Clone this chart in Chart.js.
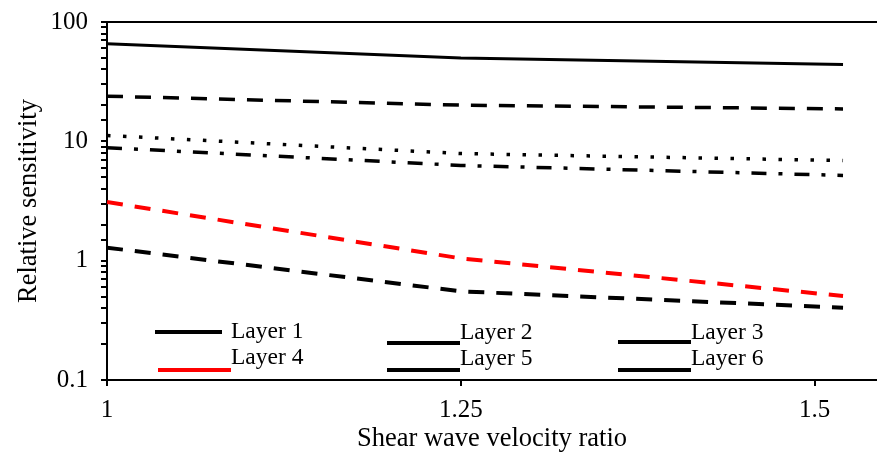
<!DOCTYPE html>
<html>
<head>
<meta charset="utf-8">
<script src="https://cdn.jsdelivr.net/npm/chart.js@4/dist/chart.umd.min.js"></script>
<style>
html, body { margin: 0; padding: 0; background: #fff; }
#wrap { width: 877px; height: 452px; }
</style>
</head>
<body>
<div id="wrap"><canvas id="myChart"></canvas></div>
<script>
// data
var velocityRatio = [1, 1.25, 1.52];
var layer1 = [65.6, 50, 44];
var layer2 = [23.9, 20.1, 18.7];
var layer3 = [11.2, 7.9, 6.9];
var layer4 = [3.1, 1.045, 0.506];
var layer5 = [8.85, 6.28, 5.18];
var layer6 = [1.285, 0.553, 0.404];
var xTicks = [1, 1.25, 1.5];
var yTicks = [0.1, 1, 10, 100];

var FONT = '"Liberation Serif", "Times New Roman", serif';

function pts(arr) {
    return arr.map(function (v, i) { return { x: velocityRatio[i], y: v }; });
}

// legend placed inside the plot, like the original
var legendBox = {
    id: 'legendBox',
    afterDraw: function (chart) {
        var c = chart.ctx;
        var spots = [
            // [line x1, line x2, line y, text x, text y]
            [155, 222, 332, 231, 332],
            [387, 460, 343, 460, 333],
            [618, 691, 342, 691, 333],
            [158, 231, 370, 231, 358],
            [387, 460, 370, 460, 359],
            [618, 691, 370, 691, 359]
        ];
        c.save();
        c.font = '23.5px ' + FONT;
        c.textBaseline = 'middle';
        c.fillStyle = '#000';
        chart.data.datasets.forEach(function (ds, k) {
            var s = spots[k];
            c.beginPath();
            c.setLineDash([]);
            c.lineWidth = 4;
            c.strokeStyle = ds.borderColor;
            c.moveTo(s[0], s[2]);
            c.lineTo(s[1], s[2]);
            c.stroke();
            c.fillText(ds.label, s[3], s[4]);
        });
        // top frame line
        var a = chart.chartArea;
        c.beginPath();
        c.lineWidth = 2;
        c.strokeStyle = '#000';
        c.moveTo(a.left, a.top);
        c.lineTo(chart.width, a.top);
        c.stroke();
        c.restore();
    }
};

var ctx = document.getElementById('myChart').getContext('2d');
var myChart = new Chart(ctx, {
    type: 'line',
    data: {
        datasets: [{
            label: 'Layer 1',
            data: pts(layer1),
            borderColor: '#000',
            borderWidth: 3
        }, {
            label: 'Layer 2',
            data: pts(layer2),
            borderColor: '#000',
            borderWidth: 3.5,
            borderDash: [16, 12]
        }, {
            label: 'Layer 3',
            data: pts(layer3),
            borderColor: '#000',
            borderWidth: 3.5,
            borderDash: [3.5, 12.5]
        }, {
            label: 'Layer 4',
            data: pts(layer4),
            borderColor: '#ff0000',
            borderWidth: 4,
            borderDash: [16, 12]
        }, {
            label: 'Layer 5',
            data: pts(layer5),
            borderColor: '#000',
            borderWidth: 3.5,
            borderDash: [15, 12, 4, 12]
        }, {
            label: 'Layer 6',
            data: pts(layer6),
            borderColor: '#000',
            borderWidth: 4,
            borderDash: [16, 12]
        }]
    },
    options: {
        responsive: true,
        maintainAspectRatio: false,
        animation: false,
        elements: {
            point: { radius: 0 },
            line: { tension: 0, fill: false }
        },
        layout: {
            padding: { top: 22, right: 0, left: 0, bottom: 0 }
        },
        plugins: {
            legend: { display: false },
            tooltip: { enabled: false }
        },
        scales: {
            x: {
                type: 'linear',
                min: 1,
                max: 1.544,
                afterBuildTicks: function (scale) {
                    scale.ticks = xTicks.map(function (v) { return { value: v }; });
                },
                afterFit: function (scale) {
                    scale.height = 72;
                    scale.paddingLeft = 0;
                    scale.paddingRight = 0;
                },
                grid: {
                    drawOnChartArea: false,
                    drawTicks: true,
                    tickLength: 6,
                    color: '#000',
                    lineWidth: 2
                },
                border: { display: true, color: '#000', width: 2 },
                ticks: {
                    color: '#000',
                    font: { family: FONT, size: 25 },
                    padding: 9,
                    maxRotation: 0,
                    callback: function (v) { return String(v); }
                },
                title: {
                    display: true,
                    text: 'Shear wave velocity ratio',
                    color: '#000',
                    font: { family: FONT, size: 26.5 },
                    padding: { top: 0, bottom: -3 }
                }
            },
            y: {
                type: 'logarithmic',
                min: 0.1,
                max: 100,
                afterFit: function (scale) {
                    scale.width = 107;
                    scale.paddingTop = 0;
                    scale.paddingBottom = 0;
                },
                grid: {
                    drawOnChartArea: false,
                    drawTicks: true,
                    tickLength: 6,
                    color: '#000',
                    lineWidth: 2
                },
                border: { display: true, color: '#000', width: 2 },
                ticks: {
                    autoSkip: false,
                    color: '#000',
                    font: { family: FONT, size: 25 },
                    padding: 13,
                    callback: function (v) {
                        for (var i = 0; i < yTicks.length; i++) {
                            if (Math.abs(v - yTicks[i]) < yTicks[i] * 1e-6) return String(yTicks[i]);
                        }
                        return '';
                    }
                },
                title: {
                    display: true,
                    text: 'Relative sensitivity',
                    color: '#000',
                    font: { family: FONT, size: 26.5 },
                    padding: { top: 13, bottom: 0 }
                }
            }
        }
    },
    plugins: [legendBox]
});
</script>
</body>
</html>
